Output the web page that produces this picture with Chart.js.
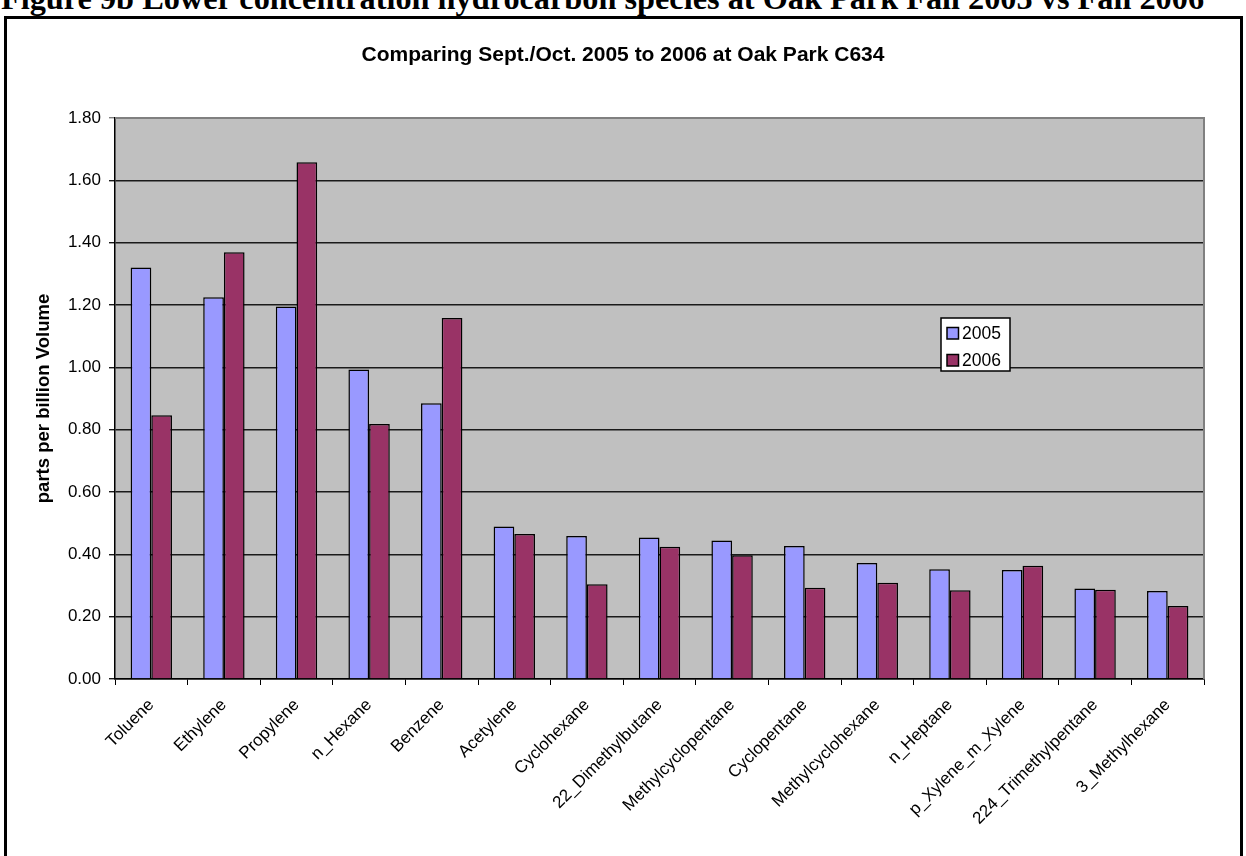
<!DOCTYPE html>
<html>
<head>
<meta charset="utf-8">
<title>Oak Park C634 hydrocarbons</title>
<script src="https://cdn.jsdelivr.net/npm/chart.js@4.4.1/dist/chart.umd.min.js"></script>
<style>
  html, body { margin: 0; padding: 0; background: #fff; overflow: hidden; }
  body { width: 1246px; height: 856px; position: relative; }
  #heading {
    position: absolute; left: 1px; top: -18px;
    font: bold 32.3px "Liberation Serif", "Times New Roman", serif;
    line-height: 32px; white-space: nowrap; color: #000;
  }
  #frame {
    position: absolute; left: 4px; top: 16px; width: 1233px; height: 860px;
    border: 3px solid #000;
  }
  #wrap { position: absolute; left: 0; top: 0; width: 1246px; height: 856px; }
</style>
</head>
<body>
<div id="heading">Figure 9b Lower concentration hydrocarbon species at Oak Park Fall 2005 vs Fall 2006</div>
<div id="frame"></div>
<div id="wrap"><canvas id="chart" width="1246" height="856"></canvas></div>
<script>
// species, ordered as in the report
const species = [
  'Toluene', 'Ethylene', 'Propylene', 'n_Hexane', 'Benzene', 'Acetylene',
  'Cyclohexane', '22_Dimethylbutane', 'Methylcyclopentane', 'Cyclopentane',
  'Methylcyclohexane', 'n_Heptane', 'p_Xylene_m_Xylene', '224_Trimethylpentane',
  '3_Methylhexane'
];

// Sept./Oct. averages, ppbV
const fall2005 = [1.32, 1.225, 1.195, 0.993, 0.885, 0.489, 0.459, 0.454, 0.444, 0.427, 0.372, 0.352, 0.350, 0.290, 0.282];
const fall2006 = [0.846, 1.369, 1.658, 0.818, 1.158, 0.465, 0.304, 0.424, 0.397, 0.293, 0.309, 0.285, 0.363, 0.286, 0.234];

const seriesNames = ['2005', '2006'];
const yTickValues = [0, 0.2, 0.4, 0.6, 0.8, 1.0, 1.2, 1.4, 1.6, 1.8];

const chartTitle = 'Comparing Sept./Oct. 2005 to 2006 at Oak Park C634';
const yTitle = 'parts per billion Volume';

const FONT = '"Liberation Sans", Arial, sans-serif';

// grey plot background, drawn before the grid
const plotBackground = {
  id: 'plotBackground',
  beforeDraw(chart) {
    const { ctx, chartArea: a } = chart;
    ctx.save();
    ctx.fillStyle = '#c0c0c0';
    ctx.fillRect(a.left, a.top, a.right - a.left, a.bottom - a.top);
    ctx.restore();
  }
};

// grey frame on the top and right of the plot, title, and the inset legend
const decorations = {
  id: 'decorations',
  afterDraw(chart) {
    const { ctx, chartArea: a } = chart;
    ctx.save();
    ctx.strokeStyle = '#808080';
    ctx.lineWidth = 2;
    ctx.beginPath();
    ctx.moveTo(a.left, a.top);
    ctx.lineTo(a.right, a.top);
    ctx.lineTo(a.right, a.bottom);
    ctx.stroke();

    ctx.fillStyle = '#000';
    ctx.font = 'bold 21px ' + FONT;
    ctx.textAlign = 'center';
    ctx.textBaseline = 'middle';
    ctx.fillText(chartTitle, 623, 55);

    // legend
    const lx = a.left + 826, ly = a.top + 200, lw = 69, lh = 53;
    ctx.fillStyle = '#fff';
    ctx.fillRect(lx, ly, lw, lh);
    ctx.strokeStyle = '#000';
    ctx.lineWidth = 1.5;
    ctx.strokeRect(lx, ly, lw, lh);
    ctx.font = '17.5px ' + FONT;
    ctx.textAlign = 'left';
    chart.data.datasets.forEach((ds, i) => {
      const sy = ly + 9.5 + i * 27;
      ctx.fillStyle = ds.backgroundColor;
      ctx.fillRect(lx + 6, sy, 11.5, 11.5);
      ctx.strokeRect(lx + 6, sy, 11.5, 11.5);
      ctx.fillStyle = '#000';
      ctx.fillText(ds.label, lx + 21, sy + 6.5);
    });
    ctx.restore();
  }
};

new Chart(document.getElementById('chart'), {
  type: 'bar',
  data: {
    labels: species,
    datasets: [
      { label: seriesNames[0], data: fall2005, backgroundColor: '#9999ff', borderColor: '#000', borderWidth: 1.5 },
      { label: seriesNames[1], data: fall2006, backgroundColor: '#993366', borderColor: '#000', borderWidth: 1.5 }
    ]
  },
  options: {
    responsive: false,
    animation: false,
    events: [],
    categoryPercentage: 0.57,
    barPercentage: 1.0,
    layout: { padding: { top: 118, right: 42, left: 0, bottom: 0 } },
    plugins: {
      legend: { display: false },
      title: { display: false },
      tooltip: { enabled: false }
    },
    scales: {
      x: {
        afterFit: s => { s.height = 177; },
        grid: {
          offset: true, drawOnChartArea: false, drawTicks: true,
          tickLength: 6, color: '#000', lineWidth: 1
        },
        border: { color: '#000', width: 1.5 },
        ticks: {
          minRotation: 45, maxRotation: 45, autoSkip: false, padding: 10,
          color: '#000', font: { family: FONT, size: 17 }
        }
      },
      y: {
        min: 0, max: 1.8,
        afterFit: s => { s.width = 115; },
        afterBuildTicks: s => { s.ticks = yTickValues.map(v => ({ value: v })); },
        grid: {
          color: c => (c.tick && c.tick.value === 1.8 ? '#808080' : '#1a1a1a'),
          lineWidth: 1.4, tickLength: 6, drawTicks: true
        },
        border: { color: '#000', width: 1.5 },
        ticks: {
          padding: 8, color: '#000', font: { family: FONT, size: 17 },
          callback: v => Number(v).toFixed(2)
        },
        title: {
          display: true, text: yTitle, color: '#000',
          font: { family: FONT, size: 18.5, weight: 'bold' },
          padding: { top: 33, bottom: 0 }
        }
      }
    }
  },
  plugins: [plotBackground, decorations]
});
</script>
</body>
</html>
